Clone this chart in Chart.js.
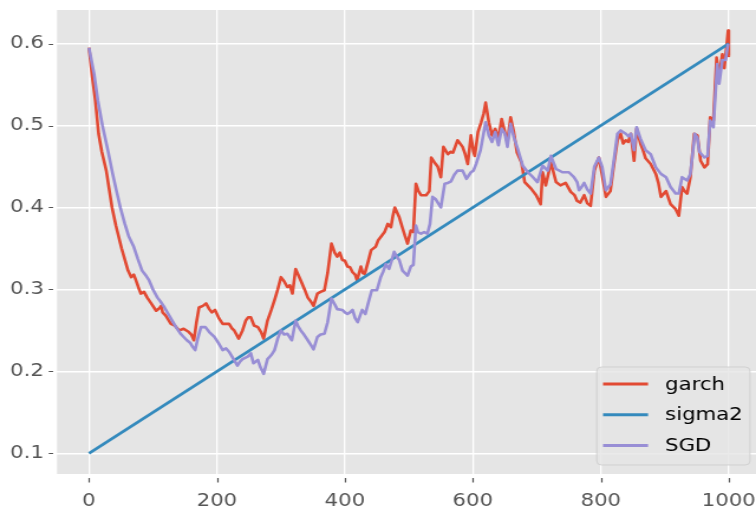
<!DOCTYPE html>
<html>
<head>
<meta charset="utf-8">
<script src="https://cdn.jsdelivr.net/npm/chart.js@4/dist/chart.umd.min.js"></script>
<style>
  html, body { margin:0; padding:0; background:#fff; overflow:hidden; width:756px; height:506px; }
  /* the reference is a horizontally stretched matplotlib image, so stretch the canvas the same way */
  #ch { display:block; transform:scaleX(1.18125); transform-origin:0 0; }
</style>
</head>
<body>
<canvas id="ch" width="644" height="506"></canvas>
<script>
// ── data: [step, value] ──────────────────────────────────────────────────
const xTicks = [0, 200, 400, 600, 800, 1000];
const yTicks = [0.1, 0.2, 0.3, 0.4, 0.5, 0.6];

const garch = [
  [0,.595],[5,.56],[10,.53],[15,.49],[20,.468],[27,.445],[36,.40],[42,.378],[51,.35],[61,.323],[66,.315],
  [70,.318],[73,.312],[77,.303],[81,.295],[86,.297],[91,.29],[98,.282],[105,.274],[110,.277],[113,.28],
  [115,.272],[120,.268],[128,.258],[134,.256],[141,.25],[148,.252],[156,.248],[160,.245],[164,.238],[168,.26],
  [172,.278],[178,.28],[183,.283],[188,.276],[192,.272],[197,.275],[203,.265],[209,.258],[219,.258],[224,.252],
  [227,.25],[234,.24],[240,.25],[245,.262],[249,.266],[253,.266],[258,.256],[264,.254],[269,.248],[273,.24],
  [279,.262],[285,.275],[290,.287],[295,.30],[300,.315],[305,.31],[310,.303],[314,.305],[318,.295],[323,.325],
  [327,.318],[331,.311],[337,.30],[342,.29],[347,.285],[351,.28],[357,.295],[362,.297],[368,.299],[373,.32],
  [379,.356],[384,.345],[388,.34],[392,.345],[396,.336],[400,.335],[404,.328],[408,.327],[412,.321],[416,.318],
  [419,.311],[425,.328],[428,.32],[431,.319],[436,.333],[441,.348],[448,.352],[452,.36],[456,.364],[462,.37],
  [467,.38],[472,.376],[475,.39],[478,.40],[485,.388],[490,.375],[494,.365],[498,.356],[503,.372],[507,.37],
  [511,.429],[515,.42],[519,.415],[527,.415],[532,.42],[535,.461],[540,.455],[545,.45],[550,.437],[554,.474],
  [561,.465],[565,.468],[569,.467],[576,.482],[580,.478],[584,.474],[588,.465],[592,.453],[597,.488],[601,.468],
  [603,.463],[608,.492],[613,.504],[617,.515],[620,.528],[625,.504],[630,.488],[635,.496],[640,.484],[645,.508],
  [650,.492],[654,.48],[659,.51],[664,.492],[669,.467],[676,.455],[681,.431],[686,.427],[691,.423],[699,.415],
  [706,.404],[709,.443],[714,.427],[722,.455],[730,.431],[737,.427],[745,.43],[753,.419],[759,.415],[763,.408],
  [768,.406],[774,.415],[779,.405],[784,.402],[790,.445],[797,.461],[802,.44],[808,.413],[815,.42],[820,.45],
  [826,.482],[831,.49],[835,.478],[839,.482],[843,.48],[847,.49],[852,.457],[856,.496],[862,.478],[866,.47],
  [870,.46],[878,.453],[886,.441],[890,.43],[894,.413],[902,.42],[909,.404],[917,.398],[922,.39],[927,.425],
  [931,.42],[935,.417],[940,.437],[946,.49],[951,.488],[956,.457],[962,.449],[967,.453],[971,.51],[976,.506],
  [981,.583],[985,.56],[990,.587],[993,.57],[997,.60],[999,.616],[1000,.585]
];

const sigma2 = [[0, 0.1], [1000, 0.6]];

const sgd = [
  [0,.595],[8,.563],[14,.53],[21,.50],[30,.468],[37,.441],[43,.42],[49,.40],[56,.38],[62,.365],
  [70,.352],[76,.338],[83,.323],[88,.318],[94,.311],[100,.30],[107,.29],[112,.285],[118,.278],[124,.27],
  [130,.262],[136,.254],[143,.246],[148,.242],[153,.238],[158,.235],[162,.23],[166,.226],[170,.24],[175,.254],
  [182,.254],[188,.248],[196,.242],[202,.235],[209,.226],[214,.228],[219,.224],[226,.215],[232,.207],[236,.212],
  [240,.215],[248,.218],[253,.222],[257,.21],[264,.214],[268,.205],[273,.197],[279,.215],[285,.22],[290,.226],
  [295,.24],[300,.25],[305,.245],[310,.246],[317,.238],[323,.262],[327,.255],[331,.25],[336,.245],[342,.238],
  [347,.232],[351,.227],[357,.242],[362,.245],[368,.246],[373,.26],[379,.289],[384,.282],[388,.276],[396,.275],
  [400,.272],[404,.27],[408,.272],[412,.275],[416,.265],[420,.26],[427,.275],[432,.27],[437,.285],[442,.299],
  [450,.299],[456,.315],[460,.322],[464,.331],[469,.325],[473,.335],[477,.346],[481,.34],[485,.336],[490,.323],
  [494,.32],[498,.317],[503,.328],[507,.33],[511,.378],[514,.37],[519,.368],[524,.37],[529,.368],[533,.38],
  [537,.413],[542,.41],[546,.405],[550,.40],[556,.429],[561,.43],[566,.432],[571,.44],[576,.445],[584,.445],
  [590,.435],[597,.443],[601,.445],[605,.453],[612,.47],[620,.504],[625,.488],[630,.48],[635,.492],[640,.476],
  [645,.496],[650,.49],[654,.474],[659,.502],[664,.486],[670,.472],[678,.451],[686,.443],[694,.437],[701,.431],
  [709,.451],[717,.445],[722,.463],[730,.447],[740,.443],[750,.443],[758,.437],[763,.431],[766,.421],[770,.425],
  [774,.43],[779,.422],[784,.417],[790,.45],[797,.461],[802,.45],[808,.421],[815,.428],[820,.455],[826,.49],
  [831,.494],[839,.49],[843,.487],[847,.49],[852,.47],[856,.498],[862,.484],[870,.47],[878,.465],[886,.449],
  [894,.441],[902,.437],[909,.425],[917,.417],[922,.417],[927,.437],[935,.433],[940,.441],[947,.49],[951,.485],
  [954,.468],[962,.461],[967,.463],[971,.506],[976,.498],[982,.575],[985,.551],[990,.58],[995,.58],[999,.60]
];

const seriesNames  = ['garch', 'sigma2', 'SGD'];
const seriesColors = ['#E24A33', '#348ABD', '#988ED5'];

// ── helpers ────────────────────────────────────────────────────────────────
const pts = arr => arr.map(([x, y]) => ({ x, y }));
const FONT = "'DejaVu Sans', sans-serif";

const panelBg = {
  id: 'panelBg',
  beforeDraw(chart) {
    const { ctx, chartArea: a } = chart;
    ctx.save();
    ctx.fillStyle = '#E5E5E5';
    ctx.fillRect(a.left, a.top, a.right - a.left, a.bottom - a.top);
    ctx.restore();
  },
  afterDraw(chart) {
    const { ctx, chartArea: a, scales } = chart;
    ctx.save();
    // tick marks (outside, with a small gap like matplotlib)
    ctx.strokeStyle = '#555555';
    ctx.lineWidth = 1.2;
    ctx.beginPath();
    xTicks.forEach(v => {
      const px = Math.round(scales.x.getPixelForValue(v)) + 0.5;
      ctx.moveTo(px, a.bottom + 4); ctx.lineTo(px, a.bottom + 8.5);
    });
    yTicks.forEach(v => {
      const py = Math.round(scales.y.getPixelForValue(v)) + 0.5;
      ctx.moveTo(a.left - 7, py); ctx.lineTo(a.left - 3.3, py);
    });
    ctx.stroke();

    // legend, lower right
    const bx = 505.2, by = 367, bw = 129.7, bh = 98, r = 4;
    ctx.globalAlpha = 0.8;
    ctx.fillStyle = '#E5E5E5';
    ctx.strokeStyle = '#CCCCCC';
    ctx.lineWidth = 1;
    ctx.beginPath();
    ctx.roundRect(bx, by, bw, bh, r);
    ctx.fill();
    ctx.stroke();
    ctx.globalAlpha = 1;
    ctx.font = '18px ' + FONT;
    ctx.textBaseline = 'middle';
    ctx.textAlign = 'left';
    seriesNames.forEach((name, i) => {
      const y = 384 + i * 30.8;
      ctx.strokeStyle = seriesColors[i];
      ctx.lineWidth = 3;
      ctx.beginPath();
      ctx.moveTo(510.5, y); ctx.lineTo(548.6, y);
      ctx.stroke();
      ctx.fillStyle = '#000000';
      ctx.fillText(name, 563, y + 1);
    });
    ctx.restore();
  }
};

new Chart(document.getElementById('ch').getContext('2d'), {
  type: 'line',
  data: {
    datasets: [
      { label: seriesNames[0], data: pts(garch),  borderColor: seriesColors[0], order: 2 },
      { label: seriesNames[1], data: pts(sigma2), borderColor: seriesColors[1], order: 1 },
      { label: seriesNames[2], data: pts(sgd),    borderColor: seriesColors[2], order: 0 },
    ]
  },
  options: {
    responsive: false, animation: false, devicePixelRatio: 1,
    layout: { padding: { top: 10, right: 0, bottom: 0, left: 0 } },
    elements: {
      line: { borderWidth: 2.6, tension: 0, fill: false, borderJoinStyle: 'round', borderCapStyle: 'butt' },
      point: { radius: 0, hoverRadius: 0 }
    },
    plugins: { legend: { display: false }, tooltip: { enabled: false } },
    scales: {
      x: {
        type: 'linear', min: -50, max: 1050,
        afterBuildTicks: s => { s.ticks = xTicks.map(v => ({ value: v })); },
        afterFit: s => { s.height = 32; s.paddingLeft = 0; s.paddingRight = 0; },
        grid: { color: '#FFFFFF', lineWidth: 1.3, drawTicks: false },
        border: { display: false },
        ticks: { color: '#555555', font: { family: FONT, size: 18 }, padding: 17, maxRotation: 0, autoSkip: false,
                 callback: v => String(v) }
      },
      y: {
        type: 'linear', min: 0.0748, max: 0.641,
        afterBuildTicks: s => { s.ticks = yTicks.map(v => ({ value: v })); },
        afterFit: s => { s.width = 48.25; s.paddingTop = 0; s.paddingBottom = 0; },
        grid: { color: '#FFFFFF', lineWidth: 1.5, drawTicks: false },
        border: { display: false },
        ticks: { color: '#555555', font: { family: FONT, size: 18 }, padding: 11, autoSkip: false,
                 callback: v => v.toFixed(1) }
      }
    }
  },
  plugins: [panelBg]
});
</script>
</body>
</html>
